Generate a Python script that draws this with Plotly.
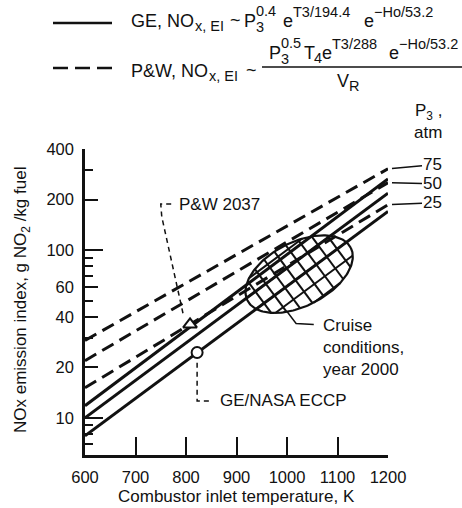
import numpy as np
import plotly.graph_objects as go

# ---------------------------------------------------------------- data
t3_ends = [600, 1200]                      # combustor inlet temperature, K
p3_levels = ["75", "50", "25"]             # combustor inlet pressure, atm
ge_ei_600 = [11.8, 10.0, 7.8]              # GE correlation, NOx EI at 600 K
ge_ei_1200 = [265, 218, 170]               # GE correlation, NOx EI at 1200 K
pw_ei_600 = [28.9, 21.9, 15.1]             # P&W correlation, NOx EI at 600 K
pw_ei_1200 = [305, 252, 186]               # P&W correlation, NOx EI at 1200 K

pw2037_t3, pw2037_ei = [808], [36.0]       # P&W 2037 engine point
eccp_t3, eccp_ei = [822], [24.5]           # GE/NASA ECCP point

cruise_t3, cruise_ei = 1024, 71.8          # centre of the year-2000 cruise region

x_ticks = [600, 700, 800, 900, 1000, 1100, 1200]
y_ticks = [10, 20, 40, 60, 100, 200, 400]
y_decades = [10, 100]
y_minor = [7, 8, 9, 30, 50, 70, 80, 90, 300]

# ---------------------------------------------------------------- geometry
FIG_W, FIG_H = 462, 508
ML, MR, MT, MB = 85, 74, 149, 53
W, H = FIG_W - ML - MR, FIG_H - MT - MB
X_RANGE = [600, 1200]
Y_LO, Y_HI = np.log10(6), np.log10(400)

FONT = "Liberation Sans"
INK = "#111111"


def to_px(t, v):
    u = (np.asarray(t, float) - X_RANGE[0]) / (X_RANGE[1] - X_RANGE[0]) * W
    w = (np.log10(v) - Y_LO) / (Y_HI - Y_LO) * H
    return u, w


def from_px(u, w):
    t = X_RANGE[0] + np.asarray(u) / W * (X_RANGE[1] - X_RANGE[0])
    v = 10 ** (Y_LO + np.asarray(w) / H * (Y_HI - Y_LO))
    return t, v


def px_to_paper(px, py):
    return (px - ML) / W, (FIG_H - MB - py) / H


fig = go.Figure()

# ---------------------------------------------------------------- cruise region (hatched ellipse)
semi_a, semi_b, tilt = 58.0, 32.0, np.radians(27)
cu, cw = to_px(cruise_t3, cruise_ei)
centre = np.array([float(cu), float(cw)])
s = np.linspace(0, 2 * np.pi, 200)
eu = cu + semi_a * np.cos(s) * np.cos(tilt) - semi_b * np.sin(s) * np.sin(tilt)
ew = cw + semi_a * np.cos(s) * np.sin(tilt) + semi_b * np.sin(s) * np.cos(tilt)
ell_t, ell_v = from_px(eu, ew)

# direction of the GE correlation lines in screen space
gu, gw = to_px(t3_ends, [ge_ei_600[2], ge_ei_1200[2]])
phi = np.arctan2(gw[1] - gw[0], gu[1] - gu[0])
along = np.array([np.cos(phi), np.sin(phi)])
across = np.array([np.cos(phi + np.pi / 2), np.sin(phi + np.pi / 2)])


def clip_to_ellipse(p0, d):
    """End points of the chord of the ellipse on the line p0 + t*d."""
    c, sn = np.cos(tilt), np.sin(tilt)
    dx, dy = p0 - centre
    x0, y0 = dx * c + dy * sn, -dx * sn + dy * c
    xd, yd = d[0] * c + d[1] * sn, -d[0] * sn + d[1] * c
    A = (xd / semi_a) ** 2 + (yd / semi_b) ** 2
    B = 2 * (x0 * xd / semi_a ** 2 + y0 * yd / semi_b ** 2)
    C = (x0 / semi_a) ** 2 + (y0 / semi_b) ** 2 - 1
    disc = B * B - 4 * A * C
    if disc <= 0:
        return None
    return [p0 + (-B + sg * np.sqrt(disc)) / (2 * A) * d for sg in (-1, 1)]


hx, hy = [], []


def add_chord(p0, d):
    ends = clip_to_ellipse(p0, d)
    if ends is None:
        return
    for e in ends:
        t, v = from_px(e[0], e[1])
        hx.append(float(t))
        hy.append(float(v))
    hx.append(None)
    hy.append(None)


# cross lines, perpendicular to the correlation lines
for k in range(-8, 9):
    add_chord(centre + (k + 0.5) * 13.0 * along, across)

# lines parallel to the correlation lines, spaced like the 25 / 50 atm GE lines
u25, w25 = to_px(t3_ends, [ge_ei_600[2], ge_ei_1200[2]])
u50, w50 = to_px(t3_ends, [ge_ei_600[1], ge_ei_1200[1]])
p25 = np.array([u25[0], w25[0]])
p50 = np.array([u50[0], w50[0]])
off25 = float(np.dot(p25 - centre, across))
step = float(np.dot(p50 - p25, across))
for k in range(-4, 5):
    add_chord(centre + (off25 + k * step) * across, along)

fig.add_trace(go.Scatter(x=hx, y=hy, mode="lines",
                         line=dict(color=INK, width=2), hoverinfo="skip"))
fig.add_trace(go.Scatter(x=ell_t, y=ell_v, mode="lines",
                         line=dict(color=INK, width=2.2), hoverinfo="skip"))

# ---------------------------------------------------------------- correlation lines
for i in range(3):
    fig.add_trace(go.Scatter(x=t3_ends, y=[ge_ei_600[i], ge_ei_1200[i]], mode="lines",
                             line=dict(color=INK, width=3), name="GE " + p3_levels[i]))
    fig.add_trace(go.Scatter(x=t3_ends, y=[pw_ei_600[i], pw_ei_1200[i]], mode="lines",
                             line=dict(color=INK, width=3, dash="13px,7px"),
                             name="P&W " + p3_levels[i]))

# ---------------------------------------------------------------- leaders
fig.add_trace(go.Scatter(x=[794, 752, 750, 776], y=[42, 158, 188, 188], mode="lines",
                         line=dict(color=INK, width=1.5, dash="5px,4px"), hoverinfo="skip"))
fig.add_trace(go.Scatter(x=[822, 822, 851], y=[21.3, 12.6, 12.6], mode="lines",
                         line=dict(color=INK, width=1.5, dash="5px,4px"), hoverinfo="skip"))
fig.add_trace(go.Scatter(x=[1000, 1018, 1053], y=[43, 36.5, 36], mode="lines",
                         line=dict(color=INK, width=1.5), hoverinfo="skip"))

# ---------------------------------------------------------------- engine points
fig.add_trace(go.Scatter(x=pw2037_t3, y=pw2037_ei, mode="markers",
                         marker=dict(symbol="triangle-up", size=12, color="white",
                                     line=dict(color=INK, width=2)), name="P&W 2037"))
fig.add_trace(go.Scatter(x=eccp_t3, y=eccp_ei, mode="markers",
                         marker=dict(symbol="circle", size=11, color="white",
                                     line=dict(color=INK, width=2)), name="GE/NASA ECCP"))

# invisible trace that carries the longer decade ticks
fig.add_trace(go.Scatter(x=[None], y=[None], yaxis="y2", showlegend=False, hoverinfo="skip"))

# ---------------------------------------------------------------- annotations
ann = []
txt = dict(family=FONT, size=17, color=INK)

ann.append(dict(x=782, y=np.log10(188), xref="x", yref="y", text="P&W 2037",
                showarrow=False, xanchor="left", yanchor="middle", font=txt))
ann.append(dict(x=863, y=np.log10(12.6), xref="x", yref="y", text="GE/NASA ECCP",
                showarrow=False, xanchor="left", yanchor="middle", font=txt))
ann.append(dict(x=1067, y=np.log10(26.3), xref="x", yref="y",
                text="Cruise<br>conditions,<br>year 2000", align="left",
                showarrow=False, xanchor="left", yanchor="middle", font=txt))

# pressure labels at the right-hand ends of the P&W lines
label_lift = [-4, 1, -2]
for i, lvl in enumerate(p3_levels):
    ann.append(dict(x=1200, y=np.log10(pw_ei_1200[i]), xref="x", yref="y", text=lvl,
                    showarrow=True, arrowhead=0, arrowwidth=1.5, arrowcolor=INK,
                    ax=44, ay=label_lift[i], font=txt, standoff=4, borderpad=0))

px_, py_ = px_to_paper(428, 112)
ann.append(dict(x=px_, y=py_, xref="paper", yref="paper", text="P<sub>3</sub> ,",
                showarrow=False, xanchor="center", yanchor="middle", font=txt))
px_, py_ = px_to_paper(428, 132)
ann.append(dict(x=px_, y=py_, xref="paper", yref="paper", text="atm",
                showarrow=False, xanchor="center", yanchor="middle", font=txt))

# axis titles
ann.append(dict(x=0.5, y=px_to_paper(0, 496)[1], xref="paper", yref="paper",
                text="Combustor inlet temperature, K", showarrow=False,
                xanchor="center", yanchor="middle", font=txt))
ann.append(dict(x=px_to_paper(22, 0)[0], y=px_to_paper(0, 300)[1], xref="paper", yref="paper",
                text="NOx emission index, g NO<sub>2</sub> /kg fuel", textangle=-90,
                showarrow=False, xanchor="center", yanchor="middle", font=txt))


# correlation key, typeset piece by piece so that scripts can be stacked
def piece(text, left, baseline, size):
    """Text whose left edge and baseline sit at the given page pixels."""
    centre_y = baseline - 0.3465 * size
    xp, yp = px_to_paper(left, centre_y)
    ann.append(dict(x=xp, y=yp, xref="paper", yref="paper", text=text,
                    showarrow=False, xanchor="left", yanchor="middle", borderpad=0,
                    font=dict(family=FONT, size=size, color=INK)))


M, S = 18, 14.5
MINUS = "\u2212"
# GE line
piece("GE, NO", 130, 27, M)
piece("x, EI", 194, 31, S)
piece("~", 229, 26, M)
piece("P", 243, 27, M)
piece("0.4", 255, 16, S)
piece("3", 255, 32, S)
piece("e", 282, 27, M)
piece("T3/194.4", 292, 17, S)
piece("e", 363, 27, M)
piece(MINUS + "Ho/53.2", 373, 17, S)
# P&W line
piece("P&W, NO", 130, 77, M)
piece("x, EI", 208, 81, S)
piece("~", 245, 76, M)
piece("P", 268, 59, M)
piece("0.5", 280, 48, S)
piece("3", 280, 64, S)
piece("T", 303, 59, M)
piece("4", 313, 63, S)
piece("e", 321, 59, M)
piece("T3/288", 331, 49, S)
piece("e", 388, 59, M)
piece(MINUS + "Ho/53.2", 398, 49, S)
piece("V", 336, 87, M)
piece("R", 348, 91, S)

shapes = []
x0p, y0p = px_to_paper(53, 23)
x1p, _ = px_to_paper(112, 23)
shapes.append(dict(type="line", xref="paper", yref="paper", x0=x0p, x1=x1p, y0=y0p, y1=y0p,
                   line=dict(color=INK, width=2.5)))
x0p, y0p = px_to_paper(53, 68)
x1p, _ = px_to_paper(112, 68)
shapes.append(dict(type="line", xref="paper", yref="paper", x0=x0p, x1=x1p, y0=y0p, y1=y0p,
                   line=dict(color=INK, width=2.5, dash="15px,7px")))
x0p, y0p = px_to_paper(262, 67)
x1p, _ = px_to_paper(470, 67)
shapes.append(dict(type="line", xref="paper", yref="paper", x0=x0p, x1=x1p, y0=y0p, y1=y0p,
                   line=dict(color=INK, width=1.5)))

tickfont = dict(family=FONT, size=16.5, color=INK)
fig.update_layout(
    width=FIG_W, height=FIG_H,
    margin=dict(l=ML, r=MR, t=MT, b=MB, pad=0),
    paper_bgcolor="white", plot_bgcolor="white",
    showlegend=False,
    annotations=ann, shapes=shapes,
    font=dict(family=FONT, size=15, color=INK),
    xaxis=dict(range=X_RANGE, showgrid=False, zeroline=False,
               showline=True, linewidth=2.5, linecolor=INK,
               tickvals=x_ticks, ticks="inside", ticklen=18, tickwidth=2, tickcolor=INK,
               tickfont=tickfont, ticklabelstandoff=5),
    yaxis=dict(type="log", range=[Y_LO, Y_HI], showgrid=False, zeroline=False,
               showline=True, linewidth=2.5, linecolor=INK,
               tickvals=y_ticks, ticktext=[str(v) for v in y_ticks],
               ticks="inside", ticklen=13, tickwidth=2, tickcolor=INK,
               tickfont=tickfont, ticklabelstandoff=5,
               minor=dict(tickvals=y_minor, ticks="inside", ticklen=8, tickwidth=2,
                          tickcolor=INK, showgrid=False)),
    yaxis2=dict(type="log", range=[Y_LO, Y_HI], overlaying="y", anchor="x", side="left",
                showgrid=False, zeroline=False, showline=False,
                tickvals=y_decades, showticklabels=False,
                ticks="inside", ticklen=18, tickwidth=2, tickcolor=INK),
)

fig.write_html("out.html")
